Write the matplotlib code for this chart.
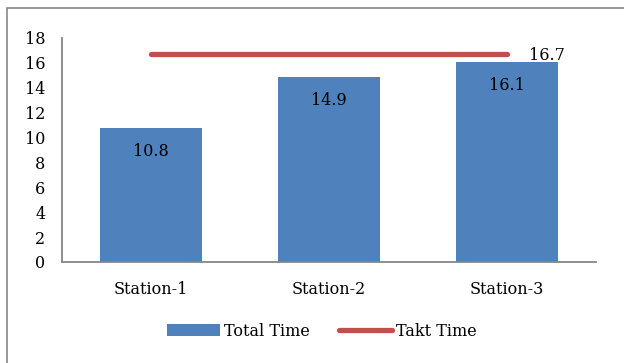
import matplotlib
matplotlib.use("Agg")
import matplotlib.pyplot as plt
from matplotlib.patches import Rectangle

# data
stations = ["Station-1", "Station-2", "Station-3"]
total_time = [10.8, 14.9, 16.1]
takt_time = 16.7

blue = "#4F81BD"
red = "#C0504D"
grey = "#868686"

plt.rcParams["font.family"] = ["DejaVu Serif"]
plt.rcParams["font.size"] = 11.5

fig = plt.figure(figsize=(6.24, 3.63), dpi=100)

# outer frame of the chart area (runs off the right and bottom edge)
fig.patches.append(Rectangle((7 / 624, -0.1), 1.2, (363 - 8) / 363 + 0.1,
                             transform=fig.transFigure, fill=False,
                             edgecolor=grey, linewidth=1.2))

ax = fig.add_axes([62 / 624, 1 - 262 / 363, 534 / 624, 224 / 363])
x = list(range(len(stations)))
bars = ax.bar(x, total_time, width=0.57, color=blue, label="Total Time", zorder=2)
line, = ax.plot([x[0], x[-1]], [takt_time, takt_time], color=red, linewidth=3.8,
                solid_capstyle="round", label="Takt Time", zorder=3)

# value labels inside the bars
for xi, v in zip(x, total_time):
    ax.annotate(f"{v}", (xi, v), xytext=(0, -17), textcoords="offset points",
                ha="center", va="center")
ax.annotate(f"{takt_time}", (x[-1], takt_time), xytext=(16, -1),
            textcoords="offset points", ha="left", va="center")

ax.set_xlim(-0.5, 2.5)
ax.set_ylim(0, 18)
ax.set_yticks(range(0, 19, 2))
ax.set_xticks(x)
ax.set_xticklabels(stations)
ax.tick_params(axis="both", length=0, labelsize=11.5)
ax.tick_params(axis="y", pad=12)
ax.tick_params(axis="x", pad=14)

for s in ["top", "right"]:
    ax.spines[s].set_visible(False)
for s in ["left", "bottom"]:
    ax.spines[s].set_color(grey)
    ax.spines[s].set_linewidth(1.3)

fig.legend(handles=[bars, line], loc="center", bbox_to_anchor=(0.516, 0.088),
           ncol=2, frameon=False, handlelength=3.3, handletextpad=0.3,
           columnspacing=1.8)

fig.savefig("out.png", dpi=100)
